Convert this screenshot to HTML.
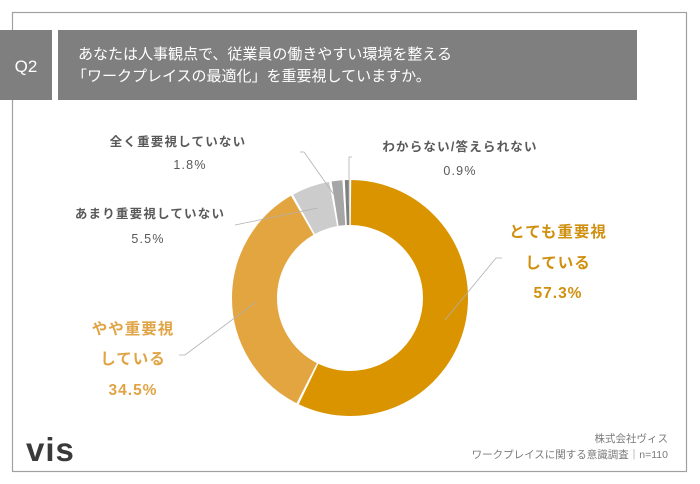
<!DOCTYPE html>
<html><head><meta charset="utf-8"><style>
body{margin:0;background:#fff;}
svg{display:block;font-family:"Liberation Sans","Noto Sans CJK JP",sans-serif;}
</style></head><body>
<svg width="700" height="484" viewBox="0 0 700 484">
<rect x="12.5" y="12.5" width="674" height="459" fill="#fff" stroke="#a0a0a0" stroke-width="1.2"/>
<rect x="0" y="30" width="52" height="70" fill="#7f7f7f"/>
<rect x="58" y="30" width="579" height="70" fill="#7f7f7f"/>
<text x="26" y="72" fill="#fff" font-size="17" text-anchor="middle">Q2</text>
<text x="78" y="59" fill="#fff" font-size="15">あなたは人事観点で、従業員の働きやすい環境を整える</text>
<text x="72" y="81" fill="#fff" font-size="15">「ワークプレイスの最適化」を重要視していますか。</text>

<g transform="rotate(-90 350 298)" fill="none" stroke-width="45">
<circle cx="350" cy="298" r="95.5" stroke="#d99400" stroke-dasharray="341.8 600" stroke-dashoffset="-1"/>
<circle cx="350" cy="298" r="95.5" stroke="#e3a540" stroke-dasharray="205 600" stroke-dashoffset="-344.8"/>
<circle cx="350" cy="298" r="95.5" stroke="#cccccc" stroke-dasharray="31 600" stroke-dashoffset="-551.8"/>
<circle cx="350" cy="298" r="95.5" stroke="#a6a6a6" stroke-dasharray="8.8 600" stroke-dashoffset="-584.8"/>
<circle cx="350" cy="298" r="95.5" stroke="#7f7f7f" stroke-dasharray="3.4 600" stroke-dashoffset="-595.6"/>
</g>

<g stroke="#b0b0b0" stroke-width="0.8" fill="none">
<polyline points="300,152 304,152 335,196"/>
<polyline points="352,157 349,157 349,205"/>
<polyline points="318,208 235,225"/>
<polyline points="256,302 185,355 179,355"/>
<polyline points="445,320 496,258 502,258"/>
</g>

<g font-size="12.5" fill="#595959" text-anchor="middle" font-weight="bold" letter-spacing="1.2">
<text x="178" y="146">全く重要視していない</text>
<text x="190" y="169" font-weight="normal">1.8%</text>
<text x="150" y="218">あまり重要視していない</text>
<text x="148" y="243" font-weight="normal">5.5%</text>
<text x="460" y="151">わからない/答えられない</text>
<text x="460" y="175" font-weight="normal">0.9%</text>
</g>
<g font-size="15.5" fill="#d0900f" font-weight="bold" text-anchor="middle" letter-spacing="1">
<text x="558" y="237">とても重要視</text>
<text x="558" y="268">している</text>
<text x="558" y="298">57.3%</text>
</g>
<g font-size="15.5" fill="#e0a444" font-weight="bold" text-anchor="middle" letter-spacing="1">
<text x="133" y="334">やや重要視</text>
<text x="133" y="364">している</text>
<text x="133" y="395">34.5%</text>
</g>

<text x="26" y="461" font-size="33" font-weight="bold" fill="#3a3a3a" letter-spacing="1">vis</text>
<g font-size="10.5" fill="#7a7a7a" text-anchor="end">
<text x="668" y="442">株式会社ヴィス</text>
<text x="668" y="458">ワークプレイスに関する意識調査｜n=110</text>
</g>
</svg>
</body></html>
